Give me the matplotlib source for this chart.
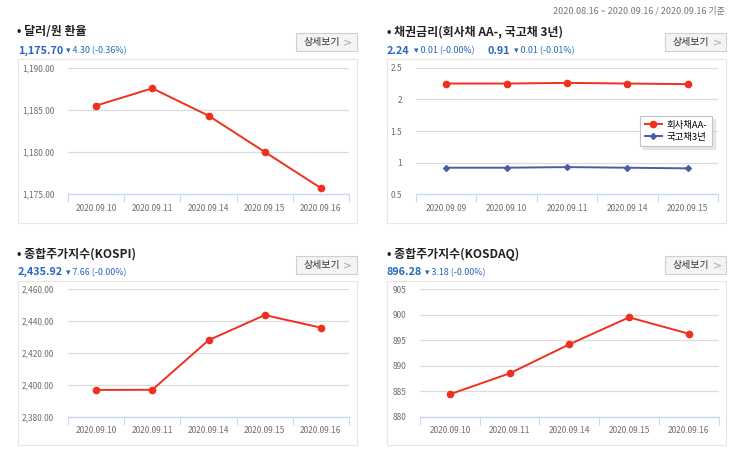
import matplotlib
matplotlib.use("Agg")
import matplotlib.pyplot as plt
from matplotlib.patches import Rectangle

plt.rcParams['font.family'] = ['Noto Sans CJK KR', 'DejaVu Sans']

# ---- data ----
fx_dates = ["2020.09.10", "2020.09.11", "2020.09.14", "2020.09.15", "2020.09.16"]
fx_values = [1185.5, 1187.55, 1184.3, 1180.0, 1175.7]
fx_yticks = [1175, 1180, 1185, 1190]

bond_dates = ["2020.09.09", "2020.09.10", "2020.09.11", "2020.09.14", "2020.09.15"]
corp_aa = [2.25, 2.25, 2.26, 2.25, 2.24]
gov_3y = [0.92, 0.92, 0.93, 0.92, 0.91]
bond_yticks = [0.5, 1, 1.5, 2, 2.5]
bond_yticklabels = ["0.5", "1", "1.5", "2", "2.5"]

kospi_dates = ["2020.09.10", "2020.09.11", "2020.09.14", "2020.09.15", "2020.09.16"]
kospi_values = [2396.8, 2396.9, 2428.0, 2443.8, 2435.92]
kospi_yticks = [2380, 2400, 2420, 2440, 2460]

kosdaq_dates = ["2020.09.10", "2020.09.11", "2020.09.14", "2020.09.15", "2020.09.16"]
kosdaq_values = [884.4, 888.5, 894.2, 899.5, 896.28]
kosdaq_yticks = [880, 885, 890, 895, 900, 905]

W, H = 743, 461
fig = plt.figure(figsize=(W / 100, H / 100), dpi=100)
fig.patch.set_facecolor('white')

RED = '#f0301e'
NAVY = '#4a5ea8'
BLUE = '#2467c0'
GRID = '#dcdcdc'
AXBLUE = '#c9d9ee'
TICKC = '#6e6e6e'


def fx(x):
    return x / W


def fy(y):
    return 1 - y / H


def add_ax(x0, y0, x1, y1):
    return fig.add_axes([fx(x0), fy(y1), fx(x1) - fx(x0), fy(y0) - fy(y1)])


def box(x0, y0, x1, y1, fc='none', ec='#e6e6e6', lw=0.8, z=0):
    fig.patches.append(Rectangle((fx(x0), fy(y1)), fx(x1) - fx(x0), fy(y0) - fy(y1),
                                 transform=fig.transFigure, facecolor=fc, edgecolor=ec,
                                 lw=lw, zorder=z))


def button(x0, y0):
    box(x0, y0, x0 + 61, y0 + 17.5, fc='#f4f4f4', ec='#d0d0d0', lw=0.8)
    fig.text(fx(x0 + 26), fy(y0 + 9), "상세보기", fontsize=7.2, color='#333333',
             ha='center', va='center')
    fig.text(fx(x0 + 52), fy(y0 + 9), ">", fontsize=8, color='#aaaaaa',
             ha='center', va='center', family='DejaVu Sans')


def style_ax(ax, dates, yticks, ylabels, ylim):
    n = len(dates)
    ax.set_xlim(-0.5, n - 0.5)
    ax.set_ylim(*ylim)
    ax.set_yticks(yticks)
    ax.set_yticklabels(ylabels)
    ax.set_xticks(range(n))
    ax.set_xticklabels(dates)
    ax.set_xticks([i - 0.5 for i in range(n + 1)], minor=True)
    ax.tick_params(axis='x', which='major', length=0, pad=7, labelsize=6, labelcolor=TICKC)
    ax.tick_params(axis='x', which='minor', length=6, width=0.8, color=AXBLUE, direction='out')
    ax.tick_params(axis='y', length=0, pad=10, labelsize=6, labelcolor=TICKC)
    for s in ['top', 'right', 'left']:
        ax.spines[s].set_visible(False)
    ax.spines['bottom'].set_color(AXBLUE)
    ax.spines['bottom'].set_linewidth(1.0)
    ax.grid(axis='y', color=GRID, lw=0.9)
    ax.set_axisbelow(True)
    ax.patch.set_alpha(0)


# ---- panel boxes ----
box(18, 59, 357, 223)
box(387, 59, 726, 223)
box(18, 281, 357, 445)
box(387, 281, 726, 445)

# ---- top-right date range ----
fig.text(fx(725), fy(11), "2020.08.16 ~ 2020.09.16 / 2020.09.16 기준", fontsize=6.5,
         color='#777777', ha='right', va='center')

# ---- headers ----
def title(x, y, s):
    fig.text(fx(x), fy(y), "• " + s, fontsize=8.6, fontweight='bold', color='#222222',
             ha='left', va='center')

title(17, 31.5, "달러/원 환율")
fig.text(fx(18), fy(50.5), "1,175.70", fontsize=7.8, fontweight='bold', color=BLUE, va='center')
fig.text(fx(66), fy(51), "▾ 4.30 (-0.36%)", fontsize=6.4, color=BLUE, va='center')
button(296, 33.5)

title(387, 31.5, "채권금리(회사채 AA-, 국고채 3년)")
fig.text(fx(387), fy(50.5), "2.24", fontsize=7.8, fontweight='bold', color=BLUE, va='center')
fig.text(fx(414), fy(51), "▾ 0.01 (-0.00%)", fontsize=6.4, color=BLUE, va='center')
fig.text(fx(487), fy(50.5), "0.91", fontsize=7.8, fontweight='bold', color=BLUE, va='center')
fig.text(fx(514), fy(51), "▾ 0.01 (-0.01%)", fontsize=6.4, color=BLUE, va='center')
button(665, 33.5)

title(17, 254, "종합주가지수(KOSPI)")
fig.text(fx(18), fy(272), "2,435.92", fontsize=7.8, fontweight='bold', color=BLUE, va='center')
fig.text(fx(66), fy(272.5), "▾ 7.66 (-0.00%)", fontsize=6.4, color=BLUE, va='center')
button(296, 256)

title(387, 254, "종합주가지수(KOSDAQ)")
fig.text(fx(387), fy(272), "896.28", fontsize=7.8, fontweight='bold', color=BLUE, va='center')
fig.text(fx(425), fy(272.5), "▾ 3.18 (-0.00%)", fontsize=6.4, color=BLUE, va='center')
button(665, 256)

# ---- panel 1: FX ----
ax1 = add_ax(68, 67.7, 349, 194)
ax1.plot(range(len(fx_values)), fx_values, color=RED, lw=1.4, marker='o', ms=4.5, zorder=3)
style_ax(ax1, fx_dates, fx_yticks, [f"{v:,.2f}" for v in fx_yticks], (1175, 1190))

# ---- panel 2: bonds ----
ax2 = add_ax(416, 67.7, 718, 194.3)
ax2.plot(range(len(corp_aa)), corp_aa, color=RED, lw=1.4, marker='o', ms=4.5, zorder=3,
         label="회사채AA-")
ax2.plot(range(len(gov_3y)), gov_3y, color=NAVY, lw=1.4, marker='D', ms=3, zorder=3,
         label="국고채3년")
style_ax(ax2, bond_dates, bond_yticks, bond_yticklabels, (0.5, 2.5))
leg = ax2.legend(loc='upper right', bbox_to_anchor=(fx(712), fy(116)),
                 bbox_transform=fig.transFigure, fontsize=6.8, frameon=True,
                 fancybox=False, shadow={'color': '#d8d8d8', 'alpha': 0.6},
                 borderpad=0.5, handlelength=1.8,
                 handletextpad=0.5, labelspacing=0.3, borderaxespad=0)
leg.get_frame().set_edgecolor('#c4c4c4')
leg.get_frame().set_linewidth(0.8)

# ---- panel 3: KOSPI ----
ax3 = add_ax(68, 289.3, 349, 416.7)
ax3.plot(range(len(kospi_values)), kospi_values, color=RED, lw=1.4, marker='o', ms=4.5, zorder=3)
style_ax(ax3, kospi_dates, kospi_yticks, [f"{v:,.2f}" for v in kospi_yticks], (2380, 2460))

# ---- panel 4: KOSDAQ ----
ax4 = add_ax(420, 289.3, 718.7, 416.7)
ax4.plot(range(len(kosdaq_values)), kosdaq_values, color=RED, lw=1.4, marker='o', ms=4.5, zorder=3)
style_ax(ax4, kosdaq_dates, kosdaq_yticks, [str(v) for v in kosdaq_yticks], (880, 905))

fig.savefig("out.png", dpi=100, facecolor='white')
